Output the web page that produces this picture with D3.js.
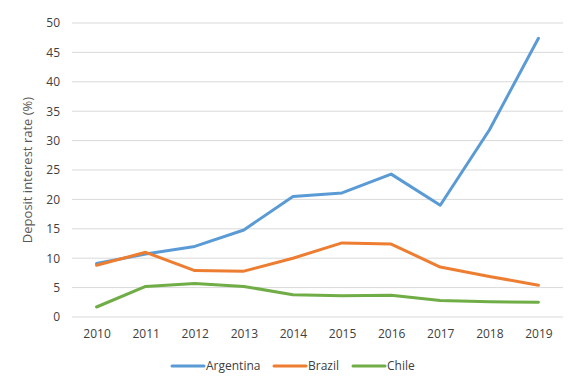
<!DOCTYPE html>
<html>
<head>
<meta charset="utf-8">
<script src="https://cdn.jsdelivr.net/npm/d3@7"></script>
<style>
  body { margin: 0; background: #fff; }
  text { font-family: "Open Sans", "Liberation Sans", sans-serif; }
</style>
</head>
<body>
<div id="chart"></div>
<script>
// Data
const years = ["2010", "2011", "2012", "2013", "2014", "2015", "2016", "2017", "2018", "2019"];
const argentina = [9.1, 10.7, 12.0, 14.8, 20.5, 21.1, 24.3, 19.0, 31.8, 47.4];
const brazil = [8.8, 11.0, 7.9, 7.8, 10.0, 12.6, 12.4, 8.5, 6.9, 5.4];
const chile = [1.7, 5.2, 5.7, 5.2, 3.8, 3.6, 3.7, 2.8, 2.6, 2.5];
const yTicks = [0, 5, 10, 15, 20, 25, 30, 35, 40, 45, 50];

const seriesNames = ["Argentina", "Brazil", "Chile"];
const seriesColors = ["#5B9BD5", "#ED7D31", "#70AD47"];
const seriesValues = [argentina, brazil, chile];

const width = 571;
const height = 381;
const margin = { top: 23, right: 8, bottom: 64, left: 72 };

const svg = d3.select("#chart")
    .append("svg")
    .attr("width", width)
    .attr("height", height);

const x = d3.scalePoint()
    .domain(years)
    .range([margin.left, width - margin.right])
    .padding(0.5);

const y = d3.scaleLinear()
    .domain([0, 50])
    .range([height - margin.bottom, margin.top]);

// Gridlines
svg.append("g")
    .selectAll("line")
    .data(yTicks)
    .join("line")
    .attr("x1", margin.left)
    .attr("x2", width - margin.right)
    .attr("y1", d => y(d))
    .attr("y2", d => y(d))
    .attr("stroke", "#d9d9d9")
    .attr("stroke-width", 1);

// Y axis labels
const yAxis = svg.append("g")
    .attr("transform", `translate(${margin.left - 12},0)`)
    .call(d3.axisLeft(y).tickValues(yTicks).tickSize(0).tickPadding(0));
yAxis.select(".domain").remove();
yAxis.selectAll("text")
    .attr("font-size", "12px")
    .attr("fill", "#404040");

// X axis labels
const xAxis = svg.append("g")
    .attr("transform", `translate(0,${height - margin.bottom})`)
    .call(d3.axisBottom(x).tickSize(0).tickPadding(12));
xAxis.select(".domain").remove();
xAxis.selectAll("text")
    .attr("font-size", "12px")
    .attr("fill", "#404040");

// Axis title
svg.append("text")
    .attr("transform", `translate(32, ${(margin.top + height - margin.bottom) / 2}) rotate(-90)`)
    .attr("text-anchor", "middle")
    .attr("font-size", "13px")
    .attr("fill", "#595959")
    .text("Deposit interest rate (%)");

// Lines
const line = d3.line()
    .x((d, i) => x(years[i]))
    .y(d => y(d));

svg.append("g")
    .selectAll("path")
    .data(seriesValues)
    .join("path")
    .attr("d", line)
    .attr("fill", "none")
    .attr("stroke", (d, i) => seriesColors[i])
    .attr("stroke-width", 3)
    .attr("stroke-linejoin", "round")
    .attr("stroke-linecap", "round");

// Legend
const legendX = [172, 274, 353];
const legend = svg.append("g")
    .selectAll("g")
    .data(seriesNames)
    .join("g")
    .attr("transform", (d, i) => `translate(${legendX[i]}, 366)`);

legend.append("line")
    .attr("x1", 0)
    .attr("x2", 32)
    .attr("stroke", (d, i) => seriesColors[i])
    .attr("stroke-width", 3)
    .attr("stroke-linecap", "round");

legend.append("text")
    .attr("x", 34)
    .attr("dy", "0.35em")
    .attr("font-size", "12px")
    .attr("fill", "#404040")
    .text(d => d);
</script>
</body>
</html>
